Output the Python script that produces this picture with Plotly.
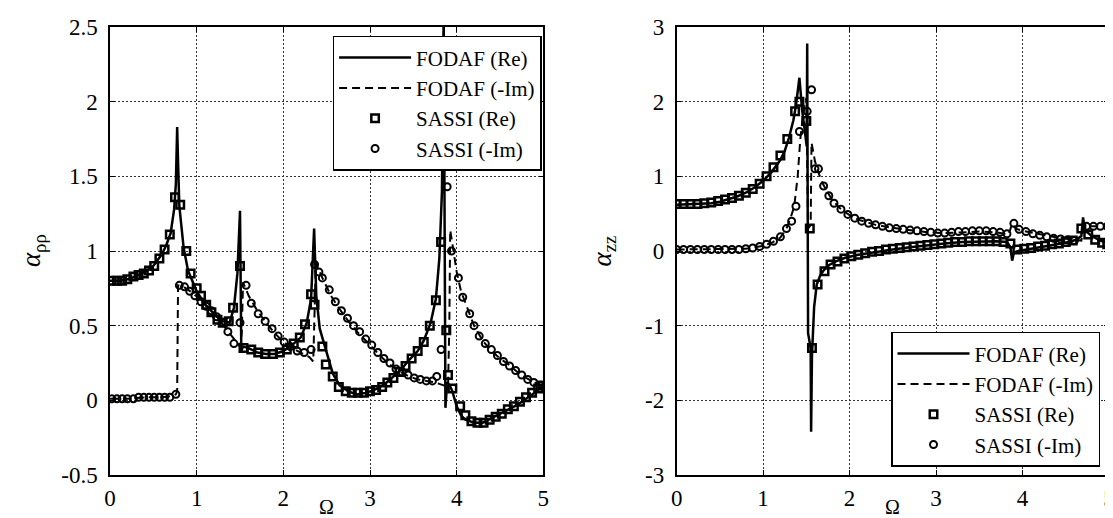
import plotly.graph_objects as go

# ---------------- Left panel: alpha_rho_rho ----------------
L_fodaf_x = [0.00, 0.10, 0.20, 0.30, 0.40, 0.50, 0.60, 0.65, 0.70, 0.74, 0.76, 0.775, 0.785, 0.80, 0.85,
             0.90, 1.00, 1.10, 1.20, 1.30, 1.38, 1.43, 1.47, 1.50, 1.515, 1.53, 1.60, 1.70, 1.80, 1.90,
             2.00, 2.10, 2.20, 2.27, 2.32, 2.355, 2.38, 2.42, 2.47, 2.52, 2.57, 2.65, 2.75, 2.85, 2.95,
             3.05, 3.15, 3.25, 3.35, 3.45, 3.55, 3.62, 3.70, 3.76, 3.80, 3.83, 3.85, 3.87, 3.89, 3.92,
             3.95, 4.00, 4.05, 4.10, 4.20, 4.30, 4.40, 4.50, 4.60, 4.70, 4.80, 4.90, 5.00]
L_fodaf_re = [0.80, 0.80, 0.81, 0.83, 0.86, 0.90, 0.98, 1.04, 1.12, 1.28, 1.45, 1.83, 1.60, 1.30, 1.02,
              0.87, 0.73, 0.64, 0.58, 0.53, 0.52, 0.62, 0.85, 1.27, 0.32, 0.36, 0.35, 0.32, 0.31, 0.31,
              0.33, 0.37, 0.42, 0.52, 0.68, 1.15, 0.70, 0.48, 0.38, 0.28, 0.18, 0.10, 0.06, 0.04, 0.05,
              0.07, 0.10, 0.15, 0.20, 0.27, 0.33, 0.40, 0.52, 0.68, 0.95, 1.40, 2.60, -0.05, 0.12, 0.10,
              0.06, -0.04, -0.10, -0.13, -0.15, -0.15, -0.12, -0.09, -0.06, -0.03, 0.01, 0.05, 0.10]

L_fodaf_im_x = [0.00, 0.20, 0.40, 0.60, 0.72, 0.76, 0.775, 0.785, 0.85, 0.95, 1.05, 1.15, 1.25, 1.35,
                1.45, 1.50, 1.52, 1.535, 1.60, 1.70, 1.80, 1.90, 2.00, 2.10, 2.20, 2.30, 2.345, 2.36,
                2.375, 2.45, 2.55, 2.65, 2.75, 2.85, 2.95, 3.05, 3.15, 3.25, 3.35, 3.45, 3.55, 3.65,
                3.75, 3.85, 3.90, 3.915, 3.925, 3.95, 4.00, 4.05, 4.10, 4.20, 4.30, 4.40, 4.50, 4.60,
                4.70, 4.80, 4.90, 5.00]
L_fodaf_im = [0.01, 0.01, 0.02, 0.02, 0.03, 0.04, 0.06, 0.77, 0.76, 0.72, 0.67, 0.61, 0.55, 0.47,
              0.40, 0.36, 0.45, 0.79, 0.70, 0.60, 0.52, 0.45, 0.39, 0.35, 0.32, 0.29, 0.26, 0.60,
              0.92, 0.82, 0.70, 0.61, 0.53, 0.46, 0.40, 0.34, 0.28, 0.23, 0.19, 0.16, 0.14, 0.13,
              0.12, 0.10, 0.09, 0.50, 1.14, 1.05, 0.86, 0.73, 0.65, 0.50, 0.40, 0.33, 0.28, 0.24,
              0.19, 0.15, 0.12, 0.09]

L_sassi_re_x = [0.02, 0.08, 0.14, 0.20, 0.27, 0.33, 0.39, 0.45, 0.51, 0.57, 0.63, 0.69, 0.75, 0.81,
                0.88, 0.93, 1.00, 1.05, 1.11, 1.17, 1.24, 1.30, 1.37, 1.42, 1.50, 1.54, 1.63, 1.71,
                1.79, 1.88, 1.96, 2.04, 2.12, 2.19, 2.25, 2.32, 2.36, 2.45, 2.49, 2.57, 2.64, 2.72,
                2.79, 2.86, 2.93, 3.00, 3.07, 3.14, 3.20, 3.27, 3.34, 3.41, 3.48, 3.55, 3.62, 3.69,
                3.76, 3.82, 3.88, 3.90, 3.95, 4.04, 4.10, 4.17, 4.24, 4.31, 4.38, 4.45, 4.52, 4.59,
                4.66, 4.73, 4.80, 4.87, 4.94, 4.99]
L_sassi_re = [0.80, 0.80, 0.80, 0.81, 0.83, 0.84, 0.85, 0.87, 0.90, 0.95, 1.01, 1.11, 1.36, 1.31,
              1.00, 0.85, 0.75, 0.70, 0.64, 0.59, 0.54, 0.52, 0.53, 0.62, 0.90, 0.35, 0.34, 0.32,
              0.31, 0.31, 0.32, 0.34, 0.38, 0.42, 0.51, 0.71, 0.64, 0.36, 0.24, 0.16, 0.09, 0.06,
              0.05, 0.05, 0.05, 0.06, 0.07, 0.09, 0.12, 0.15, 0.19, 0.23, 0.28, 0.33, 0.39, 0.50,
              0.67, 1.06, 0.47, 0.17, 0.08, -0.04, -0.10, -0.14, -0.15, -0.15, -0.13, -0.11, -0.09, -0.06,
              -0.04, -0.01, 0.02, 0.05, 0.08, 0.10]

L_sassi_im_x = [0.02, 0.08, 0.14, 0.20, 0.27, 0.33, 0.39, 0.45, 0.51, 0.57, 0.63, 0.69, 0.76, 0.80,
                0.86, 0.92, 0.98, 1.05, 1.11, 1.17, 1.23, 1.30, 1.36, 1.43, 1.50, 1.57, 1.63, 1.71,
                1.79, 1.87, 1.94, 2.01, 2.08, 2.16, 2.24, 2.32, 2.36, 2.41, 2.45, 2.53, 2.60, 2.67,
                2.74, 2.81, 2.88, 2.95, 3.02, 3.09, 3.16, 3.23, 3.30, 3.37, 3.44, 3.51, 3.58, 3.65,
                3.72, 3.77, 3.82, 3.89, 3.94, 4.02, 4.07, 4.15, 4.20, 4.26, 4.33, 4.40, 4.47, 4.54,
                4.61, 4.68, 4.75, 4.82, 4.89, 4.96]
L_sassi_im = [0.01, 0.01, 0.01, 0.01, 0.01, 0.02, 0.02, 0.02, 0.02, 0.02, 0.02, 0.02, 0.04, 0.77,
              0.76, 0.73, 0.70, 0.66, 0.63, 0.60, 0.56, 0.52, 0.46, 0.38, 0.52, 0.77, 0.65, 0.58,
              0.53, 0.48, 0.43, 0.39, 0.36, 0.33, 0.32, 0.34, 0.91, 0.86, 0.82, 0.74, 0.66, 0.60,
              0.55, 0.50, 0.46, 0.41, 0.37, 0.32, 0.28, 0.25, 0.21, 0.19, 0.17, 0.15, 0.14, 0.13,
              0.13, 0.16, 0.34, 1.43, 1.00, 0.82, 0.69, 0.58, 0.50, 0.43, 0.38, 0.34, 0.30, 0.26,
              0.23, 0.20, 0.17, 0.14, 0.12, 0.10]

# ---------------- Right panel: alpha_zz ----------------
R_fodaf_x = [0.00, 0.20, 0.40, 0.50, 0.60, 0.70, 0.80, 0.90, 1.00, 1.10, 1.20, 1.25, 1.30, 1.35, 1.38,
             1.42, 1.45, 1.49, 1.505, 1.51, 1.52, 1.55, 1.555, 1.565, 1.59, 1.62, 1.66, 1.70, 1.76,
             1.84, 1.95, 2.10, 2.30, 2.50, 2.70, 2.90, 3.10, 3.30, 3.50, 3.70, 3.82, 3.86, 3.88, 3.90,
             3.95, 4.10, 4.30, 4.50, 4.62, 4.68, 4.70, 4.72, 4.80, 4.90, 5.00]
R_fodaf_re = [0.62, 0.63, 0.64, 0.66, 0.69, 0.73, 0.78, 0.85, 0.94, 1.06, 1.22, 1.34, 1.52, 1.75, 1.95,
              2.32, 1.90, 1.55, 1.40, 2.78, -1.10, -1.30, -2.42, -1.40, -0.75, -0.45, -0.33, -0.26, -0.19,
              -0.14, -0.09, -0.05, -0.01, 0.02, 0.05, 0.08, 0.10, 0.12, 0.13, 0.13, 0.12, 0.05, -0.13, -0.02,
              0.00, 0.03, 0.07, 0.11, 0.15, 0.20, 0.45, 0.28, 0.20, 0.14, 0.10]

R_fodaf_im_x = [0.00, 0.40, 0.80, 0.90, 1.00, 1.10, 1.20, 1.27, 1.32, 1.36, 1.40, 1.43, 1.47, 1.50,
                1.52, 1.55, 1.56, 1.60, 1.65, 1.70, 1.80, 1.90, 2.00, 2.10, 2.20, 2.30, 2.50, 2.70,
                2.90, 3.10, 3.30, 3.50, 3.70, 3.84, 3.88, 3.92, 4.00, 4.20, 4.40, 4.60, 4.68, 4.71,
                4.80, 5.00]
R_fodaf_im = [0.02, 0.02, 0.03, 0.05, 0.07, 0.11, 0.18, 0.30, 0.45, 0.60, 1.00, 1.50, 1.90, 2.05,
              0.30, 0.35, 1.45, 1.20, 1.02, 0.88, 0.68, 0.56, 0.48, 0.42, 0.38, 0.35, 0.31, 0.28,
              0.25, 0.24, 0.25, 0.26, 0.25, 0.22, 0.37, 0.30, 0.27, 0.22, 0.18, 0.15, 0.14, 0.33,
              0.33, 0.33]

R_sassi_re_x = [0.00, 0.08, 0.16, 0.24, 0.32, 0.40, 0.48, 0.56, 0.64, 0.72, 0.80, 0.88, 0.96, 1.04,
                1.12, 1.20, 1.28, 1.37, 1.42, 1.50, 1.54, 1.565, 1.63, 1.71, 1.78, 1.86, 1.94, 2.02,
                2.10, 2.18, 2.26, 2.34, 2.42, 2.50, 2.58, 2.66, 2.74, 2.82, 2.90, 2.98, 3.06, 3.14,
                3.22, 3.30, 3.38, 3.46, 3.54, 3.62, 3.70, 3.78, 3.86, 3.94, 4.02, 4.10, 4.18, 4.26,
                4.34, 4.42, 4.50, 4.58, 4.68, 4.76, 4.84, 4.92, 4.98]
R_sassi_re = [0.63, 0.63, 0.63, 0.63, 0.64, 0.65, 0.67, 0.69, 0.71, 0.74, 0.78, 0.83, 0.90, 1.00,
              1.12, 1.28, 1.50, 1.87, 2.00, 1.74, 0.30, -1.30, -0.45, -0.27, -0.18, -0.14, -0.10, -0.07,
              -0.05, -0.03, -0.01, 0.00, 0.02, 0.03, 0.04, 0.05, 0.06, 0.07, 0.08, 0.09, 0.10, 0.11,
              0.12, 0.12, 0.13, 0.13, 0.13, 0.13, 0.13, 0.12, 0.10, 0.02, 0.03, 0.04, 0.06, 0.07,
              0.09, 0.10, 0.12, 0.14, 0.30, 0.22, 0.15, 0.11, 0.09]

R_sassi_im_x = [0.00, 0.08, 0.16, 0.24, 0.32, 0.40, 0.48, 0.56, 0.64, 0.72, 0.80, 0.88, 0.96, 1.04,
                1.12, 1.20, 1.27, 1.33, 1.38, 1.42, 1.51, 1.56, 1.60, 1.64, 1.70, 1.76, 1.82, 1.90,
                1.98, 2.06, 2.14, 2.22, 2.30, 2.38, 2.46, 2.54, 2.62, 2.70, 2.78, 2.86, 2.94, 3.02,
                3.10, 3.18, 3.26, 3.34, 3.42, 3.50, 3.58, 3.66, 3.74, 3.82, 3.90, 3.96, 4.04, 4.12,
                4.20, 4.28, 4.36, 4.44, 4.52, 4.60, 4.74, 4.82, 4.90, 4.98]
R_sassi_im = [0.02, 0.02, 0.02, 0.02, 0.02, 0.02, 0.02, 0.02, 0.02, 0.02, 0.03, 0.04, 0.06, 0.09,
              0.13, 0.19, 0.30, 0.40, 0.60, 1.60, 1.87, 2.16, 1.10, 1.10, 0.87, 0.74, 0.64, 0.56,
              0.49, 0.44, 0.40, 0.37, 0.35, 0.33, 0.31, 0.30, 0.29, 0.28, 0.27, 0.26, 0.25, 0.24,
              0.24, 0.25, 0.26, 0.26, 0.27, 0.27, 0.27, 0.26, 0.25, 0.23, 0.37, 0.29, 0.26, 0.23,
              0.21, 0.19, 0.17, 0.16, 0.15, 0.14, 0.33, 0.33, 0.33, 0.33]

# Tick labels
x_ticks = [0, 1, 2, 3, 4, 5]
x_tick_text = ["0", "1", "2", "3", "4", "5"]
yL_ticks = [-0.5, 0, 0.5, 1, 1.5, 2, 2.5]
yL_tick_text = ["-0.5", "0", "0.5", "1", "1.5", "2", "2.5"]
yR_ticks = [-3, -2, -1, 0, 1, 2, 3]
yR_tick_text = ["-3", "-2", "-1", "0", "1", "2", "3"]
legend_names = ["FODAF (Re)", "FODAF (-Im)", "SASSI (Re)", "SASSI (-Im)"]

FONT = '"Liberation Serif", "Times New Roman", Times, serif'

fig = go.Figure()


def add_panel(xa, ya, leg, fx, fre, fxi, fim, sxr, sre, sxi, sim):
    fig.add_trace(go.Scatter(x=fx, y=fre, mode="lines", name=legend_names[0],
                             line=dict(color="black", width=2.5),
                             xaxis=xa, yaxis=ya, legend=leg))
    fig.add_trace(go.Scatter(x=fxi, y=fim, mode="lines", name=legend_names[1],
                             line=dict(color="black", width=2, dash="8px,5px"),
                             xaxis=xa, yaxis=ya, legend=leg))
    fig.add_trace(go.Scatter(x=sxr, y=sre, mode="markers", name=legend_names[2],
                             marker=dict(symbol="square-open", size=7.5, color="black",
                                         line=dict(width=2.5, color="black")),
                             xaxis=xa, yaxis=ya, legend=leg))
    fig.add_trace(go.Scatter(x=sxi, y=sim, mode="markers", name=legend_names[3],
                             marker=dict(symbol="circle-open", size=7, color="black",
                                         line=dict(width=2, color="black")),
                             xaxis=xa, yaxis=ya, legend=leg))


add_panel("x", "y", "legend", L_fodaf_x, L_fodaf_re, L_fodaf_im_x, L_fodaf_im,
          L_sassi_re_x, L_sassi_re, L_sassi_im_x, L_sassi_im)
add_panel("x2", "y2", "legend2", R_fodaf_x, R_fodaf_re, R_fodaf_im_x, R_fodaf_im,
          R_sassi_re_x, R_sassi_re, R_sassi_im_x, R_sassi_im)

axis_common = dict(
    showline=True, linecolor="black", linewidth=1.5, mirror="ticks",
    ticks="inside", ticklen=5, tickwidth=1, tickcolor="black",
    showgrid=True, gridcolor="#333333", gridwidth=1, griddash="2px,2px",
    zeroline=False, tickfont=dict(family=FONT, size=23, color="black"),
)

legend_common = dict(
    bgcolor="white", bordercolor="black", borderwidth=1.5,
    font=dict(family=FONT, size=21, color="black"),
    tracegroupgap=0, itemwidth=72,
)

fig.update_layout(
    width=1113, height=518,
    margin=dict(l=102, r=6, t=19, b=51),
    paper_bgcolor="white", plot_bgcolor="white",
    showlegend=True,
    font=dict(family=FONT, color="black"),
    xaxis=dict(domain=[0, 0.4338], range=[0, 5], tickvals=x_ticks, ticktext=x_tick_text,
               anchor="y", ticklabelstandoff=2, **axis_common),
    yaxis=dict(domain=[0, 1], range=[-0.5, 2.5], tickvals=yL_ticks, ticktext=yL_tick_text,
               anchor="x", ticklabelstandoff=6, **axis_common),
    xaxis2=dict(domain=[0.5672, 1], range=[0, 5], tickvals=x_ticks, ticktext=x_tick_text,
                anchor="y2", ticklabelstandoff=2, **axis_common),
    yaxis2=dict(domain=[0, 1], range=[-3, 3], tickvals=yR_ticks, ticktext=yR_tick_text,
                anchor="x2", ticklabelstandoff=6, **axis_common),
    legend=dict(x=0.432, xanchor="right", y=0.98, yanchor="top", **legend_common),
    legend2=dict(x=0.991, xanchor="right", y=0.018, yanchor="bottom", **legend_common),
    annotations=[
        dict(text="<i>α</i><sub>ρρ</sub>", x=-0.077, y=0.5, xref="paper", yref="paper",
             textangle=-90, showarrow=False, xanchor="center", yanchor="middle",
             font=dict(family=FONT, size=27, color="black")),
        dict(text="<i>α</i><sub>zz</sub>", x=0.494, y=0.5, xref="paper", yref="paper",
             textangle=-90, showarrow=False, xanchor="center", yanchor="middle",
             font=dict(family=FONT, size=27, color="black")),
        dict(text="Ω", x=0.2169, y=-0.1, xref="paper", yref="paper",
             showarrow=False, xanchor="center", yanchor="bottom",
             font=dict(family=FONT, size=20, color="black")),
        dict(text="Ω", x=0.7836, y=-0.1, xref="paper", yref="paper",
             showarrow=False, xanchor="center", yanchor="bottom",
             font=dict(family=FONT, size=20, color="black")),
    ],
)

fig.write_html("out.html")
